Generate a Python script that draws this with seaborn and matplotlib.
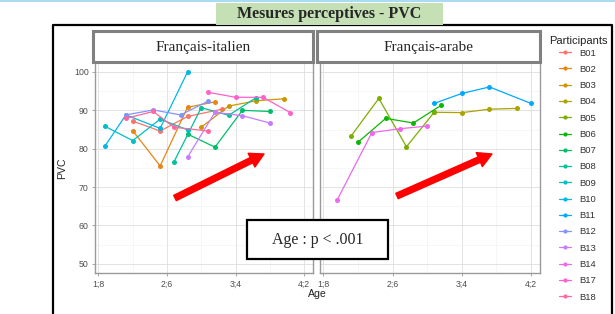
import matplotlib

matplotlib.use("Agg")

import matplotlib.pyplot as plt
import pandas as pd
import seaborn as sns
from matplotlib.lines import Line2D
from matplotlib.patches import Rectangle

W, H = 615, 314

participants = ["B01", "B02", "B03", "B04", "B05", "B06", "B07", "B08",
                "B09", "B10", "B11", "B12", "B13", "B14", "B17", "B18"]
colors = ["#F8766D", "#E68613", "#CD9600", "#ABA300", "#7CAE00", "#0CB702",
          "#00BE67", "#00C19A", "#00BFC4", "#00B8E7", "#00A9FF", "#8494FF",
          "#C77CFF", "#ED68ED", "#FF61CC", "#FF68A1"]
FI, FA = "Français-italien", "Français-arabe"
panels = [FI, FA]
group = [FI, FI, FI, FA, FA, FA, FI, FI, FI, FI, FA, FI, FI, FA, FI, FI]

# long format: one row per session, age in months
participant = (["B01"] * 4 + ["B02"] * 4 + ["B03"] * 4 + ["B04"] * 4
               + ["B05"] * 4 + ["B06"] * 4 + ["B07"] * 4 + ["B08"] * 4
               + ["B09"] * 4 + ["B10"] * 4 + ["B11"] * 4 + ["B12"] * 4
               + ["B13"] * 4 + ["B14"] * 4 + ["B17"] * 4 + ["B18"] * 4)
age_months = [25, 29, 33, 38,
              25, 29, 33, 37,
              35, 39, 43, 47,
              36, 40, 44, 48,
              24, 28, 32, 36,
              25, 29, 33, 37,
              33, 37, 41, 45,
              31, 35, 39, 43,
              21, 25, 29, 33,
              21, 24, 29, 33,
              36, 40, 44, 50,
              24, 28, 32, 36,
              33, 37, 41, 45,
              22, 27, 31, 35,
              36, 40, 44, 48,
              24, 28, 31, 36]
pvc = [87.2, 84.6, 88.4, 90.3,
       84.7, 75.5, 90.8, 92.2,
       85.6, 91.1, 92.5, 93.0,
       89.5, 89.4, 90.3, 90.5,
       83.3, 93.1, 80.5, 89.5,
       81.7, 87.9, 86.7, 91.3,
       83.8, 80.4, 90.0, 89.7,
       76.5, 90.7, 88.7, 93.3,
       85.8, 82.1, 87.7, 84.9,
       80.8, 88.8, 85.3, 100.0,
       91.8, 94.4, 96.1, 91.8,
       88.8, 90.1, 88.8, 92.4,
       77.8, 89.5, 88.6, 86.7,
       66.7, 84.2, 85.2, 85.9,
       94.7, 93.4, 93.4, 89.4,
       87.9, 89.7, 85.6, 84.6]

x_ticks = [20, 30, 40, 50]
x_tick_labels = ["1;8", "2;6", "3;4", "4;2"]
y_ticks = [50, 60, 70, 80, 90, 100]

sns.set_style("whitegrid")
plt.rcParams["font.family"] = ["Liberation Sans", "DejaVu Sans"]
SERIF = ["Liberation Serif", "DejaVu Serif"]

df = pd.DataFrame({"participant": participant, "age": age_months, "pvc": pvc})
df["group"] = df["participant"].map(dict(zip(participants, group)))
palette = dict(zip(participants, colors))


def fx(x):
    return x / W


def fy(y):
    return 1 - y / H


fig = plt.figure(figsize=(W / 100, H / 100), dpi=100)
fig.patch.set_facecolor("white")

ax_bottom, ax_top = 273.3, 62.4
boxes = [(95, 313), (320, 540)]
axes = []
for i, (g, (x0, x1)) in enumerate(zip(panels, boxes)):
    ax = fig.add_axes([fx(x0), fy(ax_bottom), fx(x1) - fx(x0), fy(ax_top) - fy(ax_bottom)])
    sub = df[df["group"] == g]
    sns.lineplot(data=sub, x="age", y="pvc", hue="participant", palette=palette,
                 estimator=None, sort=False, marker="o", markersize=3.6,
                 markeredgewidth=0, linewidth=0.9, legend=False, ax=ax)
    ax.set_xlim(19.5, 51.3)
    ax.set_ylim(47.5, 102.5)
    ax.set_xticks(x_ticks, x_tick_labels)
    ax.set_xticks([25, 35, 45], minor=True)
    ax.set_yticks(y_ticks)
    ax.set_yticks([55, 65, 75, 85, 95], minor=True)
    ax.grid(which="major", color="#DEDEDE", lw=0.6)
    ax.grid(which="minor", color="#EFEFEF", lw=0.4)
    ax.set_axisbelow(True)
    for sp in ax.spines.values():
        sp.set_visible(True)
        sp.set_color("#9A9A9A")
        sp.set_linewidth(1.0)
    ax.tick_params(which="major", labelsize=6.3, labelcolor="#4D4D4D", color="#9A9A9A",
                   length=2.5, width=0.6, pad=2.0, bottom=True, left=(i == 0))
    ax.tick_params(which="minor", length=0)
    ax.set_xlabel("")
    if i == 0:
        ax.set_ylabel("PVC", fontsize=7.6, color="#222222")
        ax.yaxis.set_label_coords(-0.128, 0.5)
    else:
        ax.set_ylabel("")
        ax.tick_params(labelleft=False)
    axes.append(ax)

# strip boxes
for g, (x0, x1) in zip(panels, [(93, 313), (317, 540)]):
    fig.add_artist(Rectangle((fx(x0), fy(62)), fx(x1) - fx(x0), fy(31) - fy(62),
                             transform=fig.transFigure, facecolor="white",
                             edgecolor="#808080", lw=2.2, zorder=3))
    fig.text(fx((x0 + x1) / 2), fy(48), g, family=SERIF, fontsize=11,
             ha="center", va="center", zorder=4)

# red trend arrows
for ax, tail, head in [(axes[0], (175, 198), (264, 154)), (axes[1], (397, 196), (492, 154))]:
    ax.annotate("", xy=(head[0], H - head[1]), xycoords="figure pixels",
                xytext=(tail[0], H - tail[1]), textcoords="figure pixels",
                arrowprops=dict(arrowstyle="simple,head_width=1.1,head_length=1.0,tail_width=0.42",
                                mutation_scale=10, color="#FF0000", shrinkA=0, shrinkB=0),
                annotation_clip=False)

# statistics box
fig.add_artist(Rectangle((fx(247), fy(259)), fx(388) - fx(247), fy(220) - fy(259),
                         transform=fig.transFigure, facecolor="white",
                         edgecolor="black", lw=1.6, zorder=5))
fig.text(fx(317.5), fy(240), "Age : p < .001", family=SERIF, fontsize=11.5,
         ha="center", va="center", zorder=6)

fig.text(fx(317), fy(294), "Age", fontsize=7.6, color="#222222", ha="center", va="center")

# outer frame, top rule and title banner
fig.add_artist(Line2D([fx(53), fx(53), fx(612), fx(612)], [fy(330), fy(25), fy(25), fy(330)],
                      transform=fig.transFigure, color="black", lw=1.6, zorder=2))
fig.add_artist(Line2D([0, 1], [fy(1), fy(1)], transform=fig.transFigure,
                      color="#A9DCF2", lw=1.5))
fig.add_artist(Rectangle((fx(216), fy(24.5)), fx(443) - fx(216), fy(2.5) - fy(24.5),
                         transform=fig.transFigure, facecolor="#C5E0B4",
                         edgecolor="none", zorder=3))
fig.text(fx(329.5), fy(14), "Mesures perceptives - PVC", family=SERIF, fontsize=11.5,
         weight="bold", ha="center", va="center", zorder=4)

# legend
handles = [Line2D([0], [0], color=c, marker="o", markersize=3, lw=0.9, markeredgewidth=0)
           for c in colors]
fig.legend(handles, participants, loc="upper left", bbox_to_anchor=(fx(559), fy(48.5)),
           frameon=False, fontsize=6.8, handlelength=1.27, handletextpad=0.85,
           labelspacing=0.77, borderpad=0, borderaxespad=0, labelcolor="#333333")
fig.text(fx(549), fy(40.7), "Participants", fontsize=8, color="#222222", ha="left", va="center")

fig.savefig("out.png", dpi=100)
